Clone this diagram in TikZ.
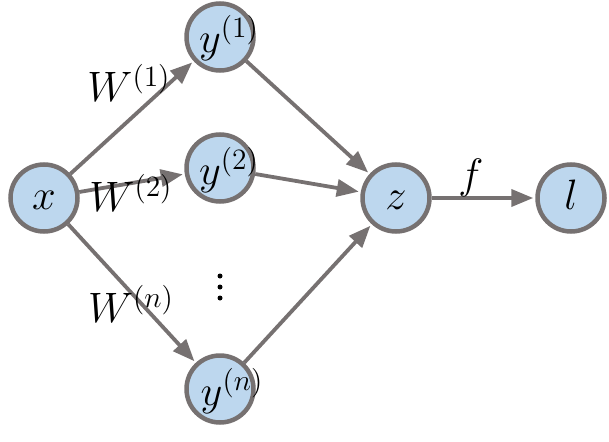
\documentclass[tikz,border=0pt]{standalone}
\usepackage{graphicx}
\usetikzlibrary{arrows.meta,calc,backgrounds}
\definecolor{nodefill}{HTML}{BDD7EE}
\definecolor{edgegray}{HTML}{767171}
\newcommand\MyBig[1]{\scalebox{2.05}{\huge$#1$}}
\begin{document}
\begin{tikzpicture}[x=1pt,y=-1pt,
  circ/.style={circle,draw=edgegray,fill=nodefill,line width=4.5pt,minimum size=67pt,inner sep=0pt},
  conn/.style={draw=edgegray,line width=3.8pt,shorten >=2pt,-{Triangle[length=22pt,width=17pt]}},
  txt/.style={inner sep=0pt},
  dot/.style={circle,fill=black,minimum size=5pt,inner sep=0pt},
]
\useasboundingbox (0,0) rectangle (609,441);
\node[circ] (x) at (44,198) {};
\node[circ] (y1) at (220,37) {};
\node[circ] (y2) at (220,168) {};
\node[circ] (yn) at (220,389) {};
\node[circ] (z) at (396,198) {};
\node[circ] (l) at (571,198) {};

\node[txt] (tx) at (44,200) {\MyBig{x}};
\node[txt] (ty1) at (229,38) {\MyBig{y^{(1)}}};
\node[txt] (ty2) at (229,170) {\MyBig{y^{(2)}}};
\node[txt] (tyn) at (232,391) {\MyBig{y^{(n)}}};
\node[txt] (tz) at (396,200) {\MyBig{z}};
\node[txt] (tl) at (571,195) {\MyBig{l}};

\begin{scope}[on background layer]
\draw[conn] (x) -- (y1);
\draw[conn] (x) -- (y2);
\draw[conn] (x) -- (yn);
\draw[conn] (y1) -- (z);
\draw[conn] (y2) -- (z);
\draw[conn] (yn) -- (z);
\draw[conn] (z) -- (l);
\end{scope}

\node[txt] (w1) at (129,83) {\MyBig{W^{(1)}}};
\node[txt] (w2) at (131,193) {\MyBig{W^{(2)}}};
\node[txt] (wn) at (131,304) {\MyBig{W^{(n)}}};
\node[txt] (f) at (471,178) {\MyBig{f}};

\node[dot] (d1) at (220,276) {};
\node[dot] (d2) at (220,287) {};
\node[dot] (d3) at (220,298) {};
\end{tikzpicture}
\end{document}
